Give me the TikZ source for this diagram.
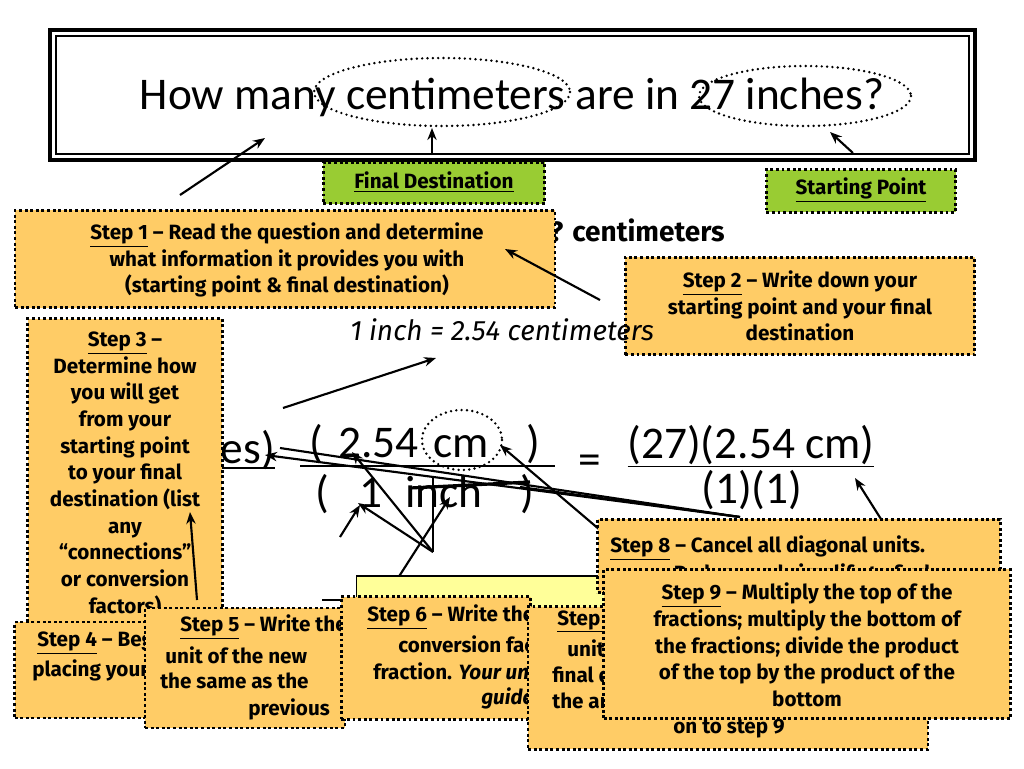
\documentclass[tikz,border=0pt]{standalone}
\usepackage{fontspec}
\setmainfont{Carlito}
\newfontfamily\cf{Fira Sans}
\usetikzlibrary{arrows.meta}
\definecolor{boxor}{HTML}{FFCC66}
\definecolor{boxgr}{HTML}{99CC33}
\definecolor{lyel}{HTML}{FFFF99}
\tikzset{
 stepbox/.style={draw=black,fill=boxor,line width=2.2pt,dash pattern=on 2.2pt off 2pt},
 greenbox/.style={draw=black,fill=boxgr,line width=2.2pt,dash pattern=on 2.2pt off 2pt,inner sep=0pt},
 bt/.style={font=\cf\bfseries\fontsize{15.5}{20}\selectfont,inner sep=0pt},
 ar/.style={-{Stealth[length=9pt,width=7pt]},line width=1.6pt},
 ln/.style={line width=1.6pt},
 eq/.style={font=\fontsize{34}{36}\selectfont,inner sep=0pt},
 dotel/.style={draw=black,line width=2pt,dash pattern=on 0pt off 4pt,line cap=round}
}
\begin{document}
\begin{tikzpicture}[x=0.75pt,y=-0.75pt]
\useasboundingbox (0,0) rectangle (1024,768);
\fill[white] (0,0) rectangle (1024,768);
% title frame
\draw[line width=3pt] (50,30) rectangle (975,160);
\draw[line width=1pt] (56,36) rectangle (969,154);
\node[font=\fontsize{34}{36}\selectfont,inner sep=0pt] (title) at (512,97) {How many centimeters are in 27 inches?};
\draw[dotel] (442,92) ellipse [x radius=128,y radius=34];
\draw[dotel] (805,96) ellipse [x radius=106,y radius=30];
\coordinate (a1s) at (180,195); \coordinate (a1e) at (265,138);
\coordinate (a2s) at (432,155); \coordinate (a2e) at (432,128);
\coordinate (a3s) at (853,153); \coordinate (a3e) at (830,132);
\draw[ar] (a1s) -- (a1e); \draw[ar] (a2s) -- (a2e); \draw[ar] (a3s) -- (a3e);
\node[greenbox,minimum width=166pt,minimum height=31pt] (fd) at (434,183) {};
\node[bt] at (434,182) {\underline{Final Destination}};
\node[greenbox,minimum width=142pt,minimum height=32pt] (sp) at (861,191) {};
\node[bt] at (861,190) {\underline{Starting Point}};
% centimeters heading
\node[font=\cf\bfseries\fontsize{21}{26}\selectfont,inner sep=0pt,anchor=east] (head) at (725,230) {27 inches = ? centimeters};
% step1
\node[stepbox,minimum width=405pt,minimum height=73pt] (s1) at (285,259) {};
\node[bt,align=center] at (287,260) {\underline{Step 1} – Read the question and determine\\what information it provides you with\\(starting point \& final destination)};
% step2
\node[stepbox,minimum width=262pt,minimum height=73pt] (s2) at (800,306) {};
\node[bt,align=center] at (800,306) {\underline{Step 2} – Write down your\\starting point and your final\\destination};
\draw[ar] (600,300) -- (505,249);
\node[font=\cf\itshape\fontsize{21}{24}\selectfont,inner sep=0pt] (conv) at (502,330) {1 inch = 2.54 centimeters};
% equation
\node[eq,anchor=east] (es) at (275,450) {es)};
\draw[line width=2pt] (222,468) -- (275,468);
\node[eq] (t1) at (425,444) {(\,\,2.54\,\,cm\,\,\,\,\,)};
\node[eq] (b1) at (425,494) {(\,\,\,\,1\,\,\,inch\,\,\,\,\,)};
\draw[line width=2pt] (300,466) -- (555,466);
\node[eq] (eqs) at (590,465) {=};
\node[eq] (t2) at (751,446) {\underline{(27)(2.54 cm)}};
\node[eq] (b2) at (752,490) {(1)(1)};
\draw[dotel] (462,440) ellipse [x radius=40,y radius=30];
\draw[line width=2.4pt] (410,488) -- (530,482);
% arrows
\draw[ar] (283,408) -- (436,358);
\coordinate (j) at (433,552);
\draw[ar] (340,537) -- (360,505);
\draw[ar] (j) -- (358,503);
\draw[ar] (j) -- (352,452);
\draw[ln] (j) -- (433,478);
\draw[ar] (398,578) -- (450,497);
\coordinate (k) at (740,517);
\draw[ar] (k) -- (265,455);
\draw[ln] (k) -- (280,448);
\draw[ln] (k) -- (520,487);
\draw[ar] (600,530) -- (500,445);
\draw[ar] (886,527) -- (855,478);
% step3
\node[stepbox,minimum width=146pt,minimum height=230pt] (s3) at (125,472) {};
\node[bt,align=center] at (125,474) {\underline{Step 3} –\\Determine how\\you will get\\from your\\starting point\\to your final\\destination (list\\any\\“connections”\\or conversion\\factors)};
\draw[ar] (197,600) -- (190,512);
% yellow box
\node[draw=black,fill=lyel,line width=1.2pt,minimum width=190pt,minimum height=36pt] (yb) at (483,600) {};
\node[font=\cf\bfseries\fontsize{26}{30}\selectfont,inner sep=0pt] at (470,614) {10.70 cm};
\draw[line width=2pt] (322,600) -- (340,600);
% step4
\node[stepbox,minimum width=110pt,minimum height=72pt] (s4) at (88,670) {};
\node[bt,anchor=west] at (37,642) {\underline{Step 4} – Begin by};
\node[bt,anchor=west] at (32,670) {placing your starting};
% step5
\node[stepbox,minimum width=150pt,minimum height=90pt] (s5) at (245,668) {};
\node[bt,anchor=west] at (180,627) {\underline{Step 5} – Write the};
\node[bt,anchor=west] at (165,655) {unit of the new};
\node[bt,anchor=west] at (160,681) {the same as the};
\node[bt,anchor=west] at (248,709) {previous};
% step6
\node[stepbox,minimum width=142pt,minimum height=92pt] (s6) at (436,658) {};
\node[bt,anchor=west] at (367,617) {\underline{Step 6} – Write the};
\node[bt,anchor=west] at (398,644) {conversion factor};
\node[bt,anchor=west] at (373,671) {fraction. \textit{Your units}};
\node[bt,anchor=west] at (481,698) {\textit{guide}};
% step7
\node[stepbox,minimum width=300pt,minimum height=107pt] (s7) at (728,678) {};
\node[bt,anchor=west] at (557,621) {\underline{Step 7} – Check};
\node[bt,anchor=west] at (567,648) {units cancel};
\node[bt,anchor=west] at (552,674) {final destination};
\node[bt,anchor=west] at (552,701) {the answer};
\node[bt] at (729,729) {on to step 9};
% step8
\node[stepbox,minimum width=302pt,minimum height=55pt] (s8) at (799,556) {};
\node[bt,anchor=west] at (610,548) {\underline{Step 8} – Cancel all diagonal units.};
\node[bt] at (802,574) {Reduce and simplify to find};
% step9
\node[stepbox,minimum width=305pt,minimum height=112pt] (s9) at (807,644) {};
\node[bt,align=center] at (807,645) {\underline{Step 9} – Multiply the top of the\\fractions; multiply the bottom of\\the fractions; divide the product\\of the top by the product of the\\bottom};
\end{tikzpicture}
\end{document}
